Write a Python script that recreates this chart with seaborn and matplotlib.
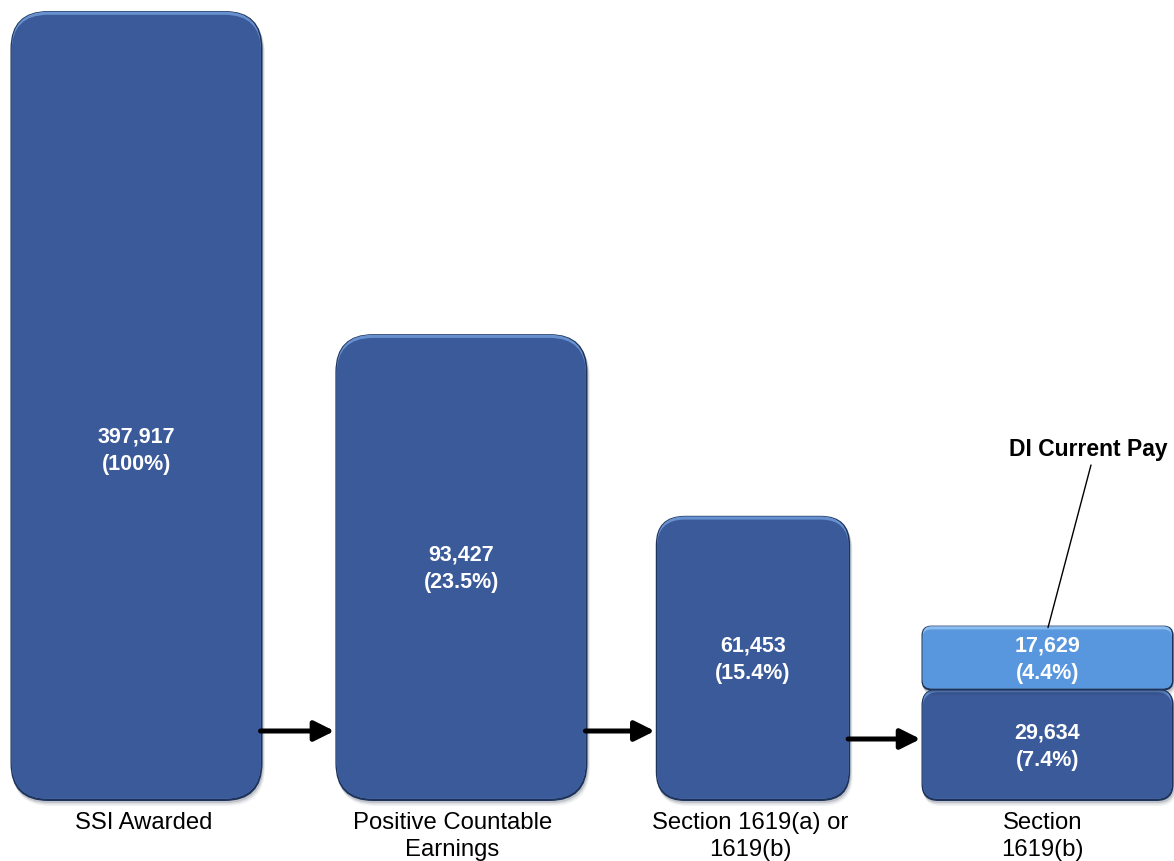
import numpy as np
import pandas as pd
import matplotlib
matplotlib.use("Agg")
import matplotlib.pyplot as plt
from matplotlib.patches import FancyBboxPatch
import seaborn as sns

# ---- data -------------------------------------------------------------
stages = ["SSI Awarded", "Positive Countable\nEarnings",
          "Section 1619(a) or\n1619(b)", "Section\n1619(b)"]
segment_stage = [stages[0], stages[1], stages[2], stages[3], stages[3]]
segment_group = ["All", "All", "All", "All", "DI Current Pay"]
segment_count = [397917, 93427, 61453, 29634, 17629]
segment_share = ["100%", "23.5%", "15.4%", "7.4%", "4.4%"]
callout_label = "DI Current Pay"

df = pd.DataFrame({"stage": segment_stage, "group": segment_group,
                   "count": segment_count, "share": segment_share})
df["bottom"] = df.groupby("stage")["count"].cumsum() - df["count"]
stage_totals = df.groupby("stage", sort=False)["count"].sum()

# ---- layout / style ---------------------------------------------------
W, H = 1174, 862
LADDER = [0.222, 0.361, 0.591, 1.0]     # relative drawn height of each funnel step (smallest first)
stage_shift = [0.0, 0.07, 0.03, 0.0]    # nudges of the boxes along x (category units)
stage_width = [0.83, 0.83, 0.64, 0.83]
name_shift = [7, -9, -3, -5]            # pixel nudges of the stage names
label_frac = {0: 0.445}                 # vertical placement of the in-box label
DARK = "#3B5A9A"
DARK_RIM = "#6790CF"
LIGHT = "#5896DD"
LIGHT_RIM = "#8CBDF0"
EDGE = "#1D335A"

sns.set_style("white")
plt.rcParams["font.family"] = ["Liberation Sans", "DejaVu Sans"]

fig = plt.figure(figsize=(W / 100, H / 100), dpi=100)
ax = fig.add_axes([0, 60 / H, 1, 790 / H])

# funnel scale: stage totals sit on a fixed ladder, linear in between
anchors = np.concatenate([[0.0], np.sort(stage_totals.values)])
levels = np.concatenate([[0.0], LADDER])


def fwd(v):
    return np.interp(v, anchors, levels)


def inv(u):
    return np.interp(u, levels, anchors)


ax.set_yscale("function", functions=(fwd, inv))

base = df[df["group"] == "All"]
top = df[df["group"] != "All"]
sns.barplot(data=base, x="stage", y="count", order=stages, color=DARK,
            width=0.8, ax=ax)
sns.barplot(data=top, x="stage", y="count", order=stages, color=LIGHT,
            width=0.8, bottom=top["bottom"].values, ax=ax)
ax.set_ylim(0, stage_totals.max())
unit = 303.67
ax.set_xlim(-136.5 / unit, (W - 136.5) / unit)
ax.axis("off")

# overlay in pixel units (y downwards) for the rounded boxes and text
pix = fig.add_axes([0, 0, 1, 1], facecolor="none")
pix.set_xlim(0, W)
pix.set_ylim(H, 0)
pix.axis("off")


def to_pix(x, y):
    disp = ax.transData.transform((x, y))
    return pix.transData.inverted().transform(disp)


def rbox(x0, y0, x1, y1, r, **kw):
    p = FancyBboxPatch((x0, y0), x1 - x0, y1 - y0,
                       boxstyle=f"round,pad=0,rounding_size={r}", **kw)
    pix.add_patch(p)


def bevel_box(x0, y0, x1, y1, face, rim):
    w, h = x1 - x0, y1 - y0
    r = 0.15 * min(w, h)
    for k, a in [(5, 0.05), (3.5, 0.09), (2, 0.14)]:
        rbox(x0 + k * 0.4, y0 + k, x1 + k * 0.5, y1 + k, r, fc="#0c1a33",
             ec="none", alpha=a)
    rbox(x0, y0, x1, y1, r, fc=EDGE, ec="none")
    rbox(x0 + 1.2, y0 + 0.6, x1 - 1.6, y1 - 2.2, r - 1, fc=rim, ec="none")
    rbox(x0 + 1.2, y0 + 3.8, x1 - 1.6, y1 - 2.2, max(r - 1.5, 1), fc=face,
         ec="none")


boxes = {}
for p in list(ax.patches):
    xc = p.get_x() + p.get_width() / 2
    i = int(round(xc))
    y0, h = p.get_y(), p.get_height()
    p.set_visible(False)
    if h <= 0 or np.isnan(h):
        continue
    cx = i + stage_shift[i]
    hw = stage_width[i] / 2
    (px0, pyb), (px1, pyt) = to_pix(cx - hw, y0), to_pix(cx + hw, y0 + h)
    boxes[(i, y0 > 0)] = (px0, pyt, px1, pyb)

# draw lower segments first, then the stacked ones on top
for key in sorted(boxes, key=lambda k: k[1]):
    i, stacked = key
    x0, yt, x1, yb = boxes[key]
    if stacked:
        bevel_box(x0, yt, x1, yb - 0.5, LIGHT, LIGHT_RIM)
    else:
        bevel_box(x0, yt - (2.5 if (i, True) in boxes else 0), x1, yb,
                  DARK, DARK_RIM)

# in-box value labels
for idx, row in df.iterrows():
    i = stages.index(row["stage"])
    x0, yt, x1, yb = boxes[(i, row["bottom"] > 0)]
    f = label_frac.get(i, 0.5) if row["bottom"] == 0 and i == 0 else 0.5
    y = yb - f * (yb - yt)
    pix.text((x0 + x1) / 2, y, f"{row['count']:,}\n({row['share']})",
             ha="center", va="center", color="white", fontsize=15.5,
             fontweight="bold", linespacing=1.4)

# stage names under the boxes
for i, name in enumerate(stages):
    x0, yt, x1, yb = boxes[(i, False)]
    pix.text((x0 + x1) / 2 + name_shift[i], 812, name, ha="center", va="top",
             fontsize=17.2, color="black", linespacing=1.32)

# arrows between consecutive stages
arrow_y = [732, 732, 740]
for i in range(len(stages) - 1):
    x_from = boxes[(i, False)][2]
    x_to = boxes[(i + 1, False)][0]
    pix.annotate("", xy=(x_to - 1, arrow_y[i]), xytext=(x_from - 2, arrow_y[i]),
                 arrowprops=dict(arrowstyle="-|>,head_length=0.6,head_width=0.3",
                                 lw=3.6, color="black", mutation_scale=20,
                                 shrinkA=0, shrinkB=0))

# callout for the stacked segment
x0, yt, x1, yb = boxes[(3, True)]
pix.text(1088, 450, callout_label, ha="center", va="center", fontsize=16.5,
         fontweight="bold", color="black")
pix.plot([1091, 1048], [466, yt + 2], color="black", lw=1)

fig.savefig("out.png", dpi=100)
